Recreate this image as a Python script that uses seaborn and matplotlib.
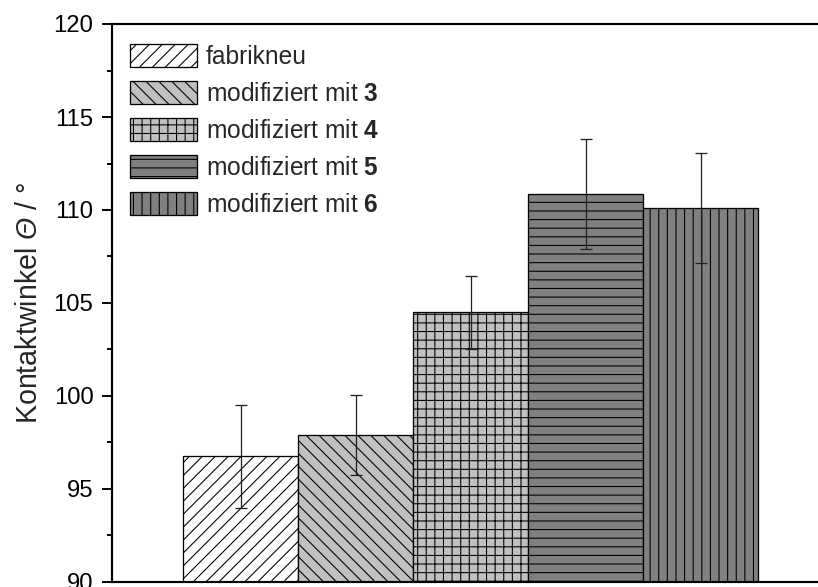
import matplotlib
matplotlib.use("Agg")
import matplotlib.pyplot as plt
from matplotlib.ticker import MultipleLocator
import seaborn as sns
import pandas as pd

# Kontaktwinkel der Proben (Mittelwert und Standardabweichung)
proben = ["fabrikneu", "mod3", "mod4", "mod5", "mod6"]
legend_labels = [
    "fabrikneu",
    r"modifiziert mit $\mathbf{3}$",
    r"modifiziert mit $\mathbf{4}$",
    r"modifiziert mit $\mathbf{5}$",
    r"modifiziert mit $\mathbf{6}$",
]
winkel = [96.75, 97.9, 104.5, 110.85, 110.1]
fehler = [2.75, 2.15, 1.95, 2.95, 2.95]
y_ticks = [90, 95, 100, 105, 110, 115, 120]

fills = ["#ffffff", "#c0c0c0", "#c0c0c0", "#808080", "#808080"]
hatches = ["////", "\\\\\\\\", "+++", "---", "|||"]

DPI = 155
W, H = 818, 587

sns.set_theme(style="ticks")
plt.rcParams.update({
    "font.family": ["Liberation Sans", "DejaVu Sans"],
    "mathtext.fontset": "custom",
    "mathtext.rm": "Liberation Sans:italic",
    "mathtext.it": "Liberation Sans:italic",
    "mathtext.bf": "Liberation Sans:bold",
    "hatch.linewidth": 0.5,
    "hatch.color": "black",
    "axes.edgecolor": "black",
    "axes.linewidth": 1.0,
})

fig = plt.figure(figsize=(W / DPI, H / DPI), dpi=DPI)
left_px, right_px = 112, 829.6
top_px, bottom_px = 24, 582
ax = fig.add_axes([left_px / W, (H - bottom_px) / H,
                   (right_px - left_px) / W, (bottom_px - top_px) / H])

df = pd.DataFrame({"Probe": proben, "Winkel": winkel})
sns.barplot(data=df, x="Probe", y="Winkel", hue="Probe", palette=fills,
            width=1.0, errorbar=None, edgecolor="black", linewidth=0.6,
            saturation=1, legend=False, ax=ax)

bars = list(ax.patches)
for bar, h in zip(bars, hatches):
    bar.set_hatch(h)
    bar.set_edgecolor("black")
    bar.set_linewidth(0.6)

ax.errorbar(range(len(proben)), winkel, yerr=fehler, fmt="none",
            ecolor="#222222", elinewidth=0.6, capsize=2.6, capthick=0.6,
            zorder=5)

ax.set_xlim(-1.12, 5.12)
ax.set_ylim(90, 120)
ax.set_yticks(y_ticks)
ax.yaxis.set_minor_locator(MultipleLocator(2.5))
ax.set_xticks([])
ax.set_xlabel("")
ax.tick_params(axis="y", which="major", direction="out", length=4.6,
               width=0.9, labelsize=11.1, pad=4, colors="black")
ax.tick_params(axis="y", which="minor", direction="out", length=2.2,
               width=0.9, colors="black")
for side in ["top", "bottom", "left", "right"]:
    ax.spines[side].set_visible(True)
    ax.spines[side].set_linewidth(1.0)
    ax.spines[side].set_color("black")

ax.set_ylabel(r"Kontaktwinkel $\Theta$ / °", fontsize=13.3, labelpad=5.0)

leg = ax.legend(bars, legend_labels, loc="upper left",
                bbox_to_anchor=(18 / (right_px - left_px), 1 - 20 / (bottom_px - top_px)),
                borderaxespad=0, borderpad=0, frameon=False, fontsize=11.4,
                handlelength=2.73, handleheight=1.06, labelspacing=0.5,
                handletextpad=0.37)

fig.savefig("out.png", dpi=DPI)
